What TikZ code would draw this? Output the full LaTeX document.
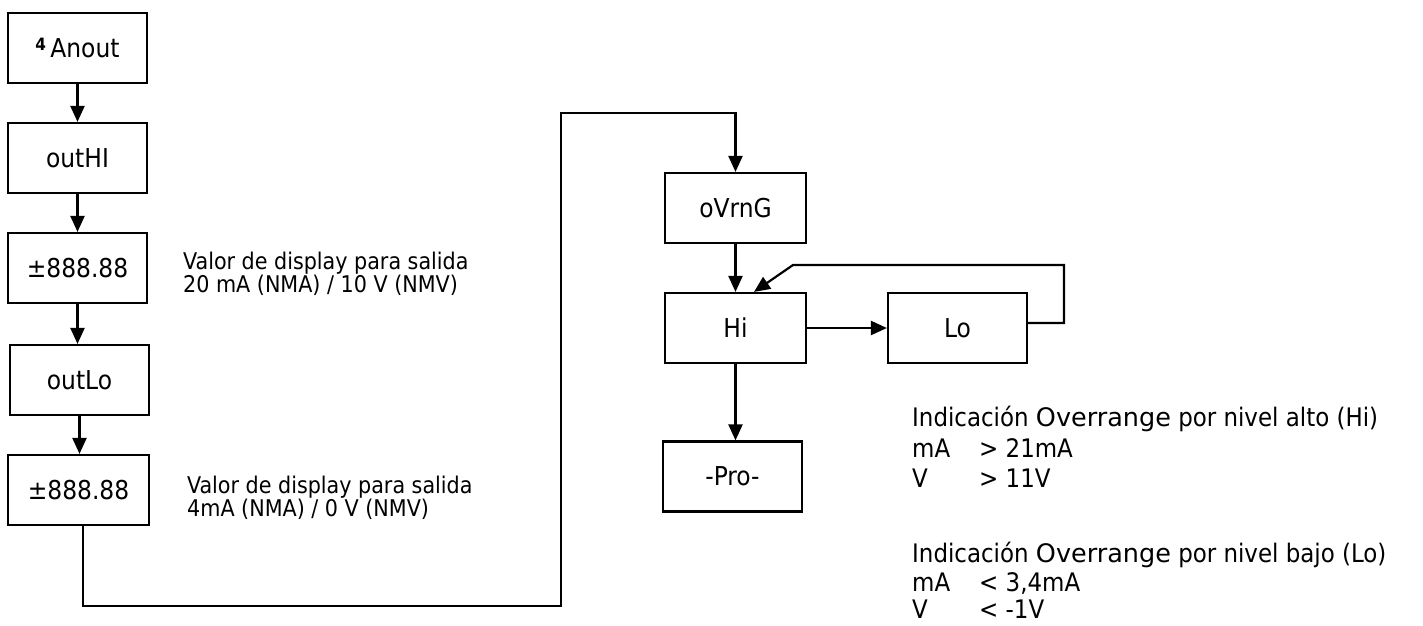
\documentclass[tikz,border=0pt]{standalone}
\usepackage{fontspec}
\setmainfont{DejaVu Sans Condensed}
\newfontfamily\widefont{DejaVu Sans}
\usetikzlibrary{arrows.meta}
\begin{document}
\begin{tikzpicture}[x=1pt,y=-1pt,
  box/.style={draw, line width=2.2pt, minimum width=139pt, minimum height=70pt, inner sep=0pt, font=\fontsize{26}{30}\selectfont},
  conn/.style={line width=2.2pt},
  arr/.style={conn, -{Triangle[width=14pt,length=16pt]}},
  note/.style={anchor=west, inner sep=0pt, align=left, font=\fontsize{23}{23.5}\selectfont},
  side/.style={anchor=base west, inner sep=0pt, font=\fontsize{25.5}{28}\selectfont}]
\useasboundingbox (0,0) rectangle (1423,625);
% left column
\node[box] (a) at (77.5,48) {\raisebox{0.55ex}{\fontsize{17}{17}\selectfont\bfseries 4}\,Anout};
\node[box] (b) at (77.5,158) {outHI};
\node[box] (c) at (77.5,268) {±888.88};
\node[box] (d) at (79.5,380) {outLo};
\node[box, minimum width=141pt] (e) at (78.5,490) {±888.88};
% right column
\node[box, minimum width=141pt] (f) at (735.5,208) {oVrnG};
\node[box, minimum width=141pt] (g) at (735.5,328) {Hi};
\node[box] (h) at (957.5,328) {Lo};
\node[box] (p) at (732.5,476.5) {-Pro-};
% notes
\node[note] (n1) at (183,274) {Valor de display para salida\\20 mA (NMA) / 10 V (NMV)};
\node[note] (n2) at (187,498) {Valor de display para salida\\4mA (NMA) / 0 V (NMV)};
\node[side] (t1) at (912,426.5) {Indicación {\widefont Overrange} por nivel alto (Hi)};
\node[side] (t2) at (912,457.5) {mA};
\node[side] (t2b) at (979,457.5) {> 21mA};
\node[side] (t3) at (912,487.5) {V};
\node[side] (t3b) at (979,487.5) {> 11V};
\node[side] (t4) at (912,562.5) {Indicación {\widefont Overrange} por nivel bajo (Lo)};
\node[side] (t5) at (912,591) {mA};
\node[side] (t5b) at (979,591) {< 3,4mA};
\node[side] (t6) at (912,618) {V};
\node[side] (t6b) at (979,618) {< -1V};
% connectors
\draw[arr] (a.south) -- (b.north);
\draw[arr] (b.south) -- (c.north);
\draw[arr] (c.south) -- (c.south |- d.north);
\draw[arr] (d.south) -- (d.south |- e.north);
\coordinate (k1) at (83,606);
\coordinate (k2) at (561,606);
\coordinate (k3) at (561,113);
\coordinate (k4) at (735.5,113);
\draw[arr] (e.south -| k1) -- (k1) -- (k2) -- (k3) -- (k4) -- (f.north);
\draw[arr] (f.south) -- (g.north);
\draw[arr] (g.east) -- (h.west);
\draw[arr] (g.south) -- (g.south |- p.north);
\coordinate (l1) at (1064,323);
\coordinate (l2) at (1064,265);
\coordinate (l3) at (793,265);
\draw[arr] (h.east |- l1) -- (l1) -- (l2) -- (l3) -- ([xshift=18.5pt]g.north);
\end{tikzpicture}
\end{document}
